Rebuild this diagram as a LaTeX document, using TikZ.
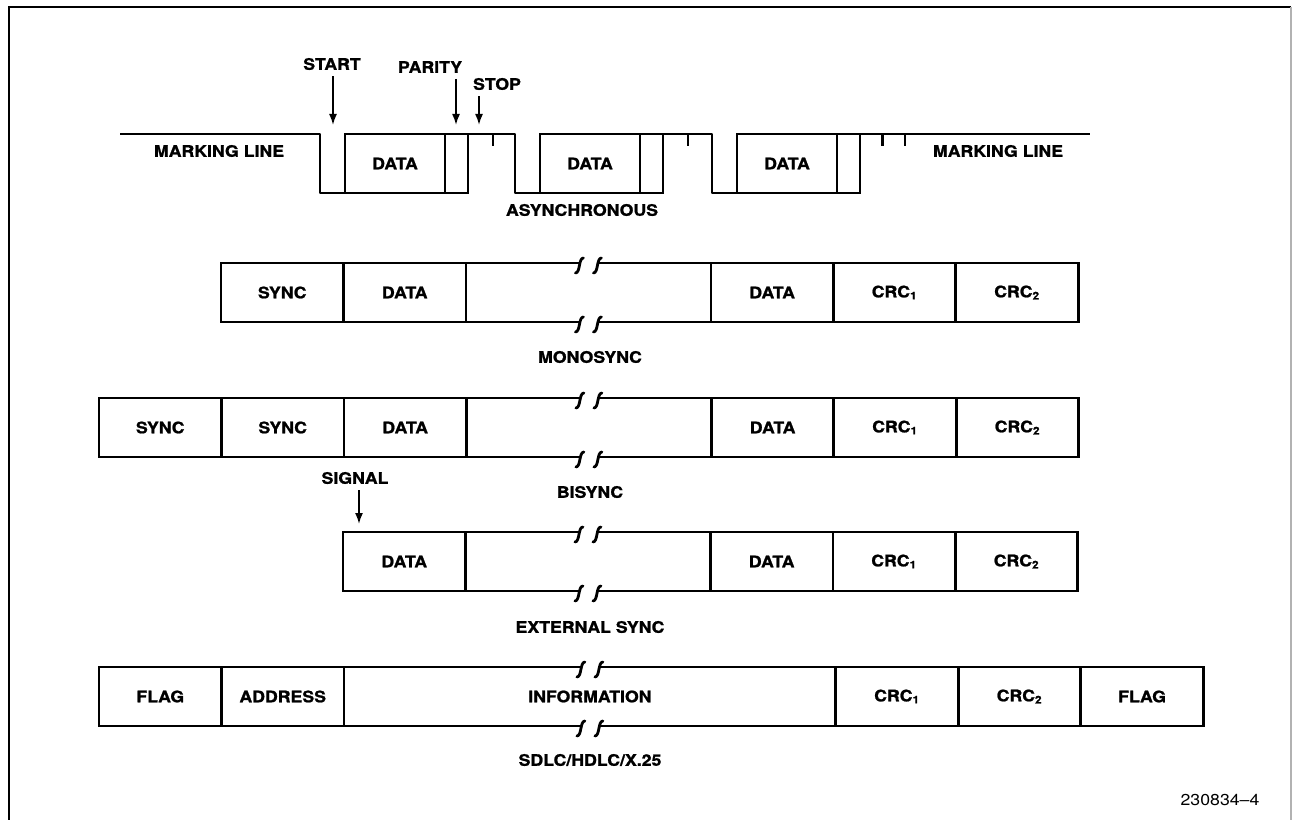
\documentclass[tikz,border=0pt]{standalone}
\usepackage{fontspec}
\setmainfont{TeX Gyre Heros}[FakeStretch=1.12, BoldFeatures={FakeBold=1.2}]
\usetikzlibrary{positioning,arrows.meta}

\begin{document}
\begin{tikzpicture}[x=0.02cm, y=-0.02cm]
	\tikzset{heavy/.style={line width=1.6pt, line join=round}}
	\tikzset{field/.style={draw, line width=1.6pt, outer sep=0pt, inner sep=0pt, minimum width=2.45cm, minimum height=1.18cm, font=\fontsize{9}{10}\selectfont\bfseries}}
	\tikzset{blankfield/.style={field, draw=none}}
	\tikzset{lbl/.style={font=\fontsize{9}{10}\selectfont\bfseries}}
	\tikzset{arr/.style={line width=1pt, -{Latex[length=0.22cm, width=0.16cm]}}}
	\tikzset{brk/.pic={
		\draw[heavy, line cap=round] (-5,-5) .. controls (-10,-5) and (-8,10) .. (-13,10);
		\draw[heavy, line cap=round] (13,-5) .. controls (8,-5) and (10,10) .. (5,10);}}

	\useasboundingbox (0,0) rectangle (1293,820);
	\draw[line width=1.4pt] (9,820) -- (9,7) -- (1291,7);
	\draw[line width=0.6pt, gray!60] (1291,7) -- (1291,820);

	\node[lbl] (start) at (332,64) {START};
	\node[lbl] (parity) at (430,67) {PARITY};
	\node[lbl] (stop) at (497,84) {STOP};
	\coordinate (startbit) at (333,125);
	\coordinate (paritybit) at (456,125);
	\coordinate (stopbit) at (479,125);
	\draw[arr] (startbit |- start.south) -- (startbit);
	\draw[arr] (paritybit |- parity.south) -- (paritybit);
	\draw[arr] (stopbit |- stop.south) -- (stopbit);

	\node[field, minimum width=2cm, anchor=north west] (data1) at (345,134) {DATA};
	\node[field, minimum width=0.46cm, right=0pt of data1] (par1) {};
	\node[field, minimum width=2cm, anchor=north west] (data2) at (540,134) {DATA};
	\node[field, minimum width=0.46cm, right=0pt of data2] (par2) {};
	\node[field, minimum width=2cm, anchor=north west] (data3) at (737,134) {DATA};
	\node[field, minimum width=0.46cm, right=0pt of data3] (par3) {};
	\coordinate (markstart) at (120,134);
	\coordinate (markend) at (1090,134);
	\draw[heavy] (markstart) -| ([xshift=-0.5cm]data1.south west) -- (data1.south west);
	\draw[heavy] (par1.north east) -- ++(47,0) |- (data2.south west);
	\draw[heavy] (par2.north east) -- ++(49,0) |- (data3.south west);
	\draw[heavy] (par3.north east) -- (markend);
	\draw[heavy] ([xshift=0.5cm]par1.north east) -- ++(0,12);
	\draw[heavy] ([xshift=0.5cm]par2.north east) -- ++(0,12);
	\draw[heavy] ([xshift=0.45cm]par3.north east) -- ++(0,12);
	\draw[heavy] ([xshift=0.9cm]par3.north east) -- ++(0,12);
	\node[lbl] (markl) at (219,151) {MARKING LINE};
	\node[lbl] (markr) at (998,151) {MARKING LINE};
	\node[lbl] (async) at (582,210) {ASYNCHRONOUS};

	\node[field, anchor=north west] (msync) at (221,263) {SYNC};
	\node[field, right=0pt of msync] (mdata1) {DATA};
	\node[blankfield, minimum width=4.9cm, right=0pt of mdata1] (mgap) {};
	\node[field, right=0pt of mgap] (mdata2) {DATA};
	\node[field, right=0pt of mdata2] (mcrc1) {CRC\textsubscript{1}};
	\node[field, right=0pt of mcrc1] (mcrc2) {CRC\textsubscript{2}};
	\draw[heavy] (mgap.north west) -- ([xshift=-0.18cm]mgap.north) ([xshift=0.18cm]mgap.north) -- (mgap.north east);
	\draw[heavy] (mgap.south west) -- ([xshift=-0.18cm]mgap.south) ([xshift=0.18cm]mgap.south) -- (mgap.south east);
	\pic at (mgap.north) {brk};
	\pic at (mgap.south) {brk};
	\node[lbl] (mono) at (590,357) {MONOSYNC};

	\node[field, anchor=north west] (bsync1) at (99,398) {SYNC};
	\node[field, right=0pt of bsync1] (bsync2) {SYNC};
	\node[field, right=0pt of bsync2] (bdata1) {DATA};
	\node[blankfield, minimum width=4.9cm, right=0pt of bdata1] (bgap) {};
	\node[field, right=0pt of bgap] (bdata2) {DATA};
	\node[field, right=0pt of bdata2] (bcrc1) {CRC\textsubscript{1}};
	\node[field, right=0pt of bcrc1] (bcrc2) {CRC\textsubscript{2}};
	\draw[heavy] (bgap.north west) -- ([xshift=-0.18cm]bgap.north) ([xshift=0.18cm]bgap.north) -- (bgap.north east);
	\draw[heavy] (bgap.south west) -- ([xshift=-0.18cm]bgap.south) ([xshift=0.18cm]bgap.south) -- (bgap.south east);
	\pic at (bgap.north) {brk};
	\pic at (bgap.south) {brk};
	\node[lbl] (bi) at (590,492) {BISYNC};

	\node[lbl] (signal) at (355,478) {SIGNAL};
	\coordinate (sigpt) at (359,524);
	\draw[arr] (sigpt |- signal.south) -- (sigpt);

	\node[field, anchor=north west] (edata1) at (343,532) {DATA};
	\node[blankfield, minimum width=4.9cm, right=0pt of edata1] (egap) {};
	\node[field, right=0pt of egap] (edata2) {DATA};
	\node[field, right=0pt of edata2] (ecrc1) {CRC\textsubscript{1}};
	\node[field, right=0pt of ecrc1] (ecrc2) {CRC\textsubscript{2}};
	\draw[heavy] (egap.north west) -- ([xshift=-0.18cm]egap.north) ([xshift=0.18cm]egap.north) -- (egap.north east);
	\draw[heavy] (egap.south west) -- ([xshift=-0.18cm]egap.south) ([xshift=0.18cm]egap.south) -- (egap.south east);
	\pic at (egap.north) {brk};
	\pic at (egap.south) {brk};
	\node[lbl] (ext) at (590,627) {EXTERNAL SYNC};

	\node[field, anchor=north west] (sflag1) at (99,667) {FLAG};
	\node[field, right=0pt of sflag1] (saddr) {ADDRESS};
	\node[blankfield, minimum width=9.84cm, right=0pt of saddr] (sinfo) {INFORMATION};
	\node[field, right=0pt of sinfo] (scrc1) {CRC\textsubscript{1}};
	\node[field, right=0pt of scrc1] (scrc2) {CRC\textsubscript{2}};
	\node[field, right=0pt of scrc2] (sflag2) {FLAG};
	\draw[heavy] (sinfo.north west) -- ([xshift=-0.18cm]sinfo.north) ([xshift=0.18cm]sinfo.north) -- (sinfo.north east);
	\draw[heavy] (sinfo.south west) -- ([xshift=-0.18cm]sinfo.south) ([xshift=0.18cm]sinfo.south) -- (sinfo.south east);
	\pic at (sinfo.north) {brk};
	\pic at (sinfo.south) {brk};
	\node[lbl] (sdlc) at (590,760) {SDLC/HDLC/X.25};

	\node[font=\fontsize{9}{10}\selectfont] (fignum) at (1220,800) {230834--4};
\end{tikzpicture}
\end{document}
